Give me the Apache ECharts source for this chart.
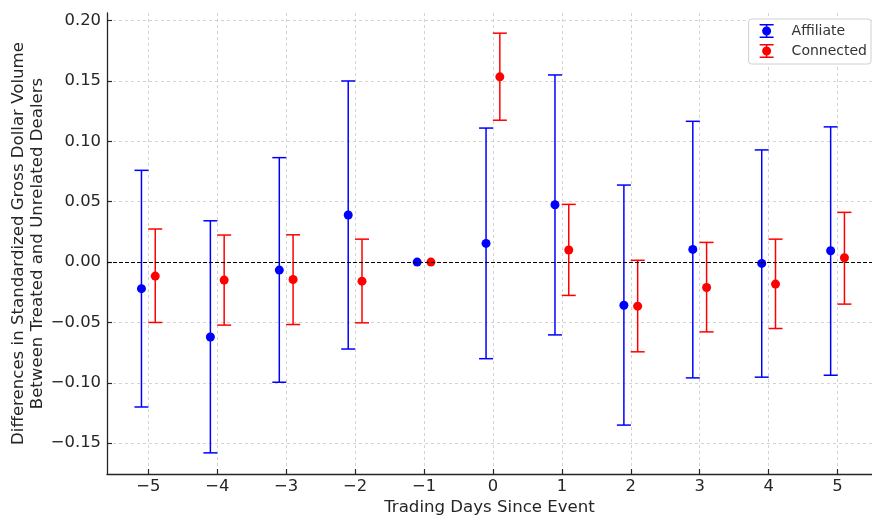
<!DOCTYPE html>
<html>
<head>
<meta charset="utf-8">
<script src="https://cdn.jsdelivr.net/npm/echarts@6/dist/echarts.min.js"></script>
<style>html,body{margin:0;padding:0;background:#fff}#c{width:872px;height:518px}</style>
</head>
<body>
<div id="c"></div>
<script>
const days = [-5, -4, -3, -2, -1, 0, 1, 2, 3, 4, 5];
const affMean  = [-0.022, -0.062, -0.0066, 0.039, 0.0, 0.0155, 0.0475, -0.0357, 0.0105, -0.0011, 0.0094];
const affLower = [-0.120, -0.158, -0.0995, -0.072, 0.0, -0.080, -0.0603, -0.135, -0.0959, -0.0953, -0.0937];
const affUpper = [0.076, 0.0342, 0.0865, 0.150, 0.0, 0.111, 0.155, 0.0638, 0.1166, 0.0929, 0.112];
const conMean  = [-0.0116, -0.0149, -0.0144, -0.0158, 0.0, 0.1534, 0.010, -0.0365, -0.021, -0.0182, 0.0036];
const conLower = [-0.050, -0.0522, -0.0517, -0.0503, 0.0, 0.1175, -0.0276, -0.0743, -0.0578, -0.055, -0.0348];
const conUpper = [0.0274, 0.0224, 0.0226, 0.019, 0.0, 0.1896, 0.0478, 0.0015, 0.0163, 0.019, 0.0412];
const yTicks = [-0.15, -0.10, -0.05, 0.00, 0.05, 0.10, 0.15, 0.20];
const OFFSET = 0.1;

const FONT = 'DejaVu Sans';
const minus = s => s.replace('-', '\u2212');

function mk(mean, lo, hi, off) {
  return days.map((d, i) => [d + off, mean[i], lo[i], hi[i]]);
}
const affData = mk(affMean, affLower, affUpper, -OFFSET);
const conData = mk(conMean, conLower, conUpper, OFFSET);

function errRender(color) {
  return function (params, api) {
    const x = api.value(0), lo = api.value(2), hi = api.value(3);
    if (lo === hi) return null;
    const top = api.coord([x, hi]), bot = api.coord([x, lo]);
    const cw = 7;
    const style = { stroke: color, lineWidth: 1.5, fill: null };
    return {
      type: 'group',
      children: [
        { type: 'line', shape: { x1: top[0], y1: top[1], x2: bot[0], y2: bot[1] }, style },
        { type: 'line', shape: { x1: top[0] - cw, y1: top[1], x2: top[0] + cw, y2: top[1] }, style },
        { type: 'line', shape: { x1: bot[0] - cw, y1: bot[1], x2: bot[0] + cw, y2: bot[1] }, style }
      ]
    };
  };
}

const errIcon = 'path://M0 0H14V1.5H0Z M6.25 0H7.75V14H6.25Z M0 12.5H14V14H0Z M2.5 7A4.5 4.5 0 1 1 11.5 7A4.5 4.5 0 1 1 2.5 7Z';

const gridLine = { show: true, lineStyle: { color: '#c8c8c8', type: [3, 3], width: 0.8 } };

const chart = echarts.init(document.getElementById('c'), null, { renderer: 'canvas' });
chart.setOption({
  animation: false,
  backgroundColor: '#ffffff',
  textStyle: { fontFamily: FONT },
  grid: { left: 107, top: 13, right: 0, bottom: 44, containLabel: false, outerBoundsMode: 'none' },
  legend: {
    orient: 'vertical',
    right: 1, top: 19,
    padding: [5, 4, 6, 11],
    itemWidth: 14, itemHeight: 14, itemGap: 6,
    backgroundColor: '#ffffff',
    borderColor: '#d0d0d0', borderWidth: 1, borderRadius: 3,
    textStyle: { fontFamily: FONT, fontSize: 14, color: '#333', padding: [0, 0, 0, 13] },
    data: [
      { name: 'Affiliate', icon: errIcon, itemStyle: { color: '#0000ff' } },
      { name: 'Connected', icon: errIcon, itemStyle: { color: '#ff0000' } }
    ]
  },
  xAxis: {
    type: 'value', min: -5.6, max: 5.5,
    name: 'Trading Days Since Event', nameLocation: 'middle', nameGap: 25, nameMoveOverlap: false,
    nameTextStyle: { fontFamily: FONT, fontSize: 16.6, color: '#262626' },
    axisLine: { show: true, onZero: false, lineStyle: { color: '#262626', width: 1.3 } },
    axisTick: { show: true, inside: true, length: 5, customValues: days, lineStyle: { color: '#262626', width: 1.2 } },
    axisLabel: { customValues: days, margin: 5, fontFamily: FONT, fontSize: 16.4, color: '#262626', formatter: v => minus(String(v)) },
    splitLine: gridLine
  },
  yAxis: {
    type: 'value', min: -0.1755, max: 0.2063,
    name: 'Differences in Standardized Gross Dollar Volume\nBetween Treated and Unrelated Dealers',
    nameLocation: 'middle', nameGap: 60, nameMoveOverlap: false,
    nameTextStyle: { fontFamily: FONT, fontSize: 16.6, color: '#262626', lineHeight: 19, align: 'center' },
    axisLine: { show: true, onZero: false, lineStyle: { color: '#262626', width: 1.3 } },
    axisTick: { show: true, inside: true, length: 5, customValues: yTicks, lineStyle: { color: '#262626', width: 1.2 } },
    axisLabel: { customValues: yTicks, margin: 6, fontFamily: FONT, fontSize: 16.4, color: '#262626', formatter: v => minus(v.toFixed(2)) },
    splitLine: gridLine
  },
  series: [
    {
      name: 'Affiliate', type: 'custom', renderItem: errRender('#0000ff'),
      data: affData, encode: { x: 0, y: 1 }, z: 2, itemStyle: { color: '#0000ff' }
    },
    {
      name: 'Affiliate', type: 'scatter', data: affData.map(d => [d[0], d[1]]),
      symbol: 'circle', symbolSize: 9, itemStyle: { color: '#0000ff', opacity: 1 }, z: 4,
      markLine: {
        silent: true, symbol: 'none', label: { show: false },
        lineStyle: { color: '#000', type: [4, 2], width: 1 },
        data: [{ yAxis: 0 }]
      }
    },
    {
      name: 'Connected', type: 'custom', renderItem: errRender('#ff0000'),
      data: conData, encode: { x: 0, y: 1 }, z: 2, itemStyle: { color: '#ff0000' }
    },
    {
      name: 'Connected', type: 'scatter', data: conData.map(d => [d[0], d[1]]),
      symbol: 'circle', symbolSize: 9, itemStyle: { color: '#ff0000', opacity: 1 }, z: 4
    }
  ]
});
</script>
</body>
</html>
